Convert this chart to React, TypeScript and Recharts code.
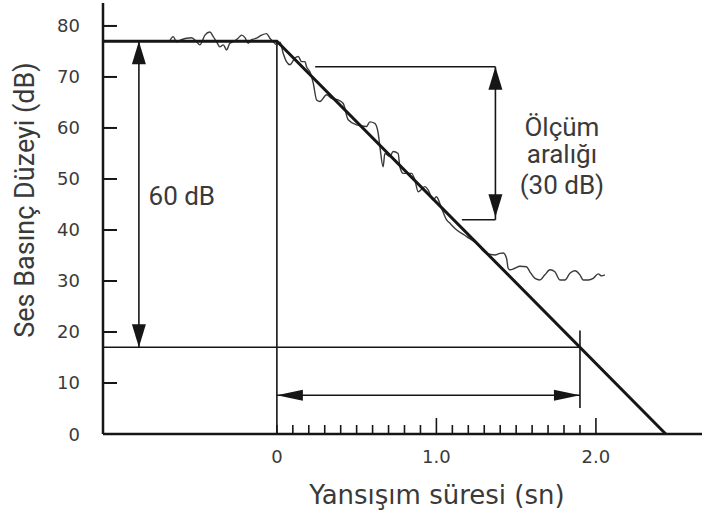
import React from 'react';
import { ComposedChart, Line, XAxis, YAxis, ReferenceLine, Scatter, ReferenceDot } from 'recharts';

const X_MIN = -1.09;
const X_MAX = 2.665;
const Y_MAX = 84.5;

const yTicks = [0, 10, 20, 30, 40, 50, 60, 70, 80];
const xTicks = [0, 0.1, 0.2, 0.3, 0.4, 0.5, 0.6, 0.7, 0.8, 0.9, 1.0, 1.1, 1.2, 1.3, 1.4, 1.5, 1.6, 1.7, 1.8, 1.9, 2.0];
const xTickLabels: Record<string, string> = { '0': '0', '1': '1.0', '2': '2.0' };
const xMajorTicks = [1.0, 2.0];

const xAxisTitle = 'Yansışım süresi (sn)';
const yAxisTitle = 'Ses Basınç Düzeyi (dB)';

// ideal decay line: steady level 77 dB, falls 60 dB in 1.9 s
const decayLine = [
  { x: X_MIN, y: 77 },
  { x: 0, y: 77 },
  { x: 2.438, y: 0 },
];

// measured (noisy) level
const measured = [
  { x: -0.671, y: 77.1 }, { x: -0.65, y: 77.9 }, { x: -0.629, y: 76.9 }, { x: -0.598, y: 77.3 },
  { x: -0.566, y: 77.6 }, { x: -0.535, y: 77.7 }, { x: -0.503, y: 76.9 }, { x: -0.483, y: 76.3 },
  { x: -0.451, y: 78.2 }, { x: -0.42, y: 78.8 }, { x: -0.399, y: 77.9 }, { x: -0.378, y: 76.9 },
  { x: -0.357, y: 75.9 }, { x: -0.336, y: 76.3 }, { x: -0.315, y: 75.3 }, { x: -0.295, y: 76.6 },
  { x: -0.274, y: 76.9 }, { x: -0.243, y: 77.6 }, { x: -0.221, y: 78.2 }, { x: -0.2, y: 77.7 },
  { x: -0.18, y: 76.6 }, { x: -0.159, y: 77.3 }, { x: -0.127, y: 77.6 }, { x: -0.096, y: 78.2 },
  { x: -0.065, y: 78.5 }, { x: -0.044, y: 77.6 }, { x: -0.023, y: 76.9 }, { x: 0, y: 76.3 },
  { x: 0.02, y: 76.8 }, { x: 0.04, y: 74.6 }, { x: 0.06, y: 73.0 }, { x: 0.082, y: 72.4 },
  { x: 0.113, y: 73.7 }, { x: 0.134, y: 74.0 }, { x: 0.155, y: 73.0 }, { x: 0.176, y: 73.0 },
  { x: 0.186, y: 72.0 }, { x: 0.207, y: 71.0 }, { x: 0.228, y: 68.8 }, { x: 0.249, y: 65.5 },
  { x: 0.27, y: 65.2 }, { x: 0.312, y: 66.5 }, { x: 0.343, y: 65.8 }, { x: 0.384, y: 65.5 },
  { x: 0.416, y: 64.8 }, { x: 0.447, y: 61.6 }, { x: 0.5, y: 60.6 }, { x: 0.562, y: 60.3 },
  { x: 0.583, y: 61.2 }, { x: 0.614, y: 60.9 }, { x: 0.635, y: 59.0 }, { x: 0.646, y: 56.3 },
  { x: 0.666, y: 52.4 }, { x: 0.677, y: 55.0 }, { x: 0.708, y: 54.4 }, { x: 0.729, y: 55.4 },
  { x: 0.76, y: 55.0 }, { x: 0.771, y: 52.4 }, { x: 0.792, y: 51.1 }, { x: 0.845, y: 51.1 },
  { x: 0.865, y: 49.8 }, { x: 0.886, y: 47.5 }, { x: 0.928, y: 48.5 }, { x: 0.949, y: 47.8 },
  { x: 0.98, y: 45.9 }, { x: 1.0, y: 46.5 }, { x: 1.033, y: 44.2 }, { x: 1.064, y: 42.0 },
  { x: 1.085, y: 41.3 }, { x: 1.12, y: 40.2 }, { x: 1.19, y: 38.7 }, { x: 1.25, y: 37.4 },
  { x: 1.315, y: 35.4 }, { x: 1.367, y: 35.1 }, { x: 1.398, y: 35.4 }, { x: 1.419, y: 35.5 },
  { x: 1.44, y: 34.4 }, { x: 1.45, y: 32.5 }, { x: 1.461, y: 32.2 }, { x: 1.492, y: 32.5 },
  { x: 1.524, y: 32.9 }, { x: 1.565, y: 32.8 }, { x: 1.586, y: 31.8 }, { x: 1.618, y: 30.5 },
  { x: 1.649, y: 30.2 }, { x: 1.68, y: 31.2 }, { x: 1.712, y: 32.2 }, { x: 1.743, y: 31.8 },
  { x: 1.774, y: 30.2 }, { x: 1.806, y: 30.2 }, { x: 1.837, y: 31.5 }, { x: 1.868, y: 32.0 },
  { x: 1.9, y: 31.2 }, { x: 1.92, y: 30.2 }, { x: 1.952, y: 30.2 }, { x: 1.983, y: 30.5 },
  { x: 2.014, y: 31.4 }, { x: 2.036, y: 31.0 }, { x: 2.056, y: 31.2 },
];

// thin guide segments [x1, y1, x2, y2]
const guideSegments = [
  [0, 0, 0, 77],
  [X_MIN, 17, 1.9, 17],
  [1.9, 5.1, 1.9, 20.3],
  [0, 7.6, 1.9, 7.6],
  [-0.865, 17, -0.865, 77],
  [0.24, 72, 1.37, 72],
  [1.16, 42, 1.37, 42],
  [1.37, 42, 1.37, 72],
];

const arrowHeads = [
  { x: -0.865, y: 77, dir: 'up' },
  { x: -0.865, y: 17, dir: 'down' },
  { x: 0, y: 7.6, dir: 'left' },
  { x: 1.9, y: 7.6, dir: 'right' },
  { x: 1.37, y: 72, dir: 'up' },
  { x: 1.37, y: 42.5, dir: 'down' },
];

const annotations = [
  { x: -0.596, y: 46.7, text: '60 dB' },
  { x: 1.787, y: 60.2, text: 'Ölçüm' },
  { x: 1.787, y: 54.8, text: 'aralığı' },
  { x: 1.787, y: 48.8, text: '(30 dB)' },
];

const INK = '#161616';
const TEXT = '#3a3a3a';
const FONT = 'DejaVu Sans';

const YTick = (props: any) => {
  const { x, y, payload } = props;
  return (
    <g>
      <line x1={x} x2={x + 14} y1={y} y2={y} stroke={INK} strokeWidth={2} />
      <text x={x - 23} y={y} textAnchor="end" dominantBaseline="central" fill={TEXT}
        fontFamily={FONT} fontSize={18}>{payload.value}</text>
    </g>
  );
};

const XTick = (props: any) => {
  const { x, y, payload } = props;
  const v = payload.value;
  const major = xMajorTicks.some((m) => Math.abs(m - v) < 1e-6);
  const key = String(Math.round(v * 10) / 10);
  const label = xTickLabels[key];
  return (
    <g>
      <line x1={x} x2={x} y1={y} y2={y - (major ? 16 : 9)} stroke={INK} strokeWidth={1.6} />
      {label ? (
        <text x={x} y={y + 22} textAnchor="middle" dominantBaseline="central" fill={TEXT}
          fontFamily={FONT} fontSize={18}>{label}</text>
      ) : null}
    </g>
  );
};

const ArrowHead = (props: any) => {
  const { cx, cy, payload } = props;
  const d = payload.dir;
  let pts = '';
  if (d === 'up') pts = `${cx},${cy} ${cx - 7},${cy + 23} ${cx + 7},${cy + 23}`;
  if (d === 'down') pts = `${cx},${cy} ${cx - 7},${cy - 23} ${cx + 7},${cy - 23}`;
  if (d === 'left') pts = `${cx},${cy} ${cx + 26},${cy - 5.5} ${cx + 26},${cy + 5.5}`;
  if (d === 'right') pts = `${cx},${cy} ${cx - 26},${cy - 5.5} ${cx - 26},${cy + 5.5}`;
  return <polygon points={pts} fill={INK} />;
};

export default function App() {
  return (
    <div style={{ position: 'absolute', left: 0, top: 0, width: 702, height: 512, background: '#fff' }}>
      <ComposedChart width={702} height={512} margin={{ top: 3, right: 0, left: 43, bottom: 48 }}>
        <XAxis type="number" dataKey="x" domain={[X_MIN, X_MAX]} ticks={xTicks} interval={0}
          allowDataOverflow tick={<XTick />} tickLine={false} tickSize={0} tickMargin={0} height={30}
          axisLine={{ stroke: INK, strokeWidth: 2.5 }} />
        <YAxis type="number" dataKey="y" domain={[0, Y_MAX]} ticks={yTicks} interval={0}
          allowDataOverflow tick={<YTick />} tickLine={false} tickSize={0} tickMargin={0} width={60}
          axisLine={{ stroke: INK, strokeWidth: 2.5 }} />
        {guideSegments.map((s, i) => (
          <ReferenceLine key={'g' + i} segment={[{ x: s[0], y: s[1] }, { x: s[2], y: s[3] }]}
            stroke={INK} strokeWidth={1.6} ifOverflow="visible" />
        ))}
        <Line data={measured} dataKey="y" type="monotone" stroke="#3a3a3a" strokeWidth={1.4}
          dot={false} isAnimationActive={false} />
        <Line data={decayLine} dataKey="y" type="linear" stroke={INK} strokeWidth={3}
          dot={false} isAnimationActive={false} />
        <Scatter data={arrowHeads} dataKey="y" shape={<ArrowHead />} isAnimationActive={false} />
        {annotations.map((a, i) => (
          <ReferenceDot key={'a' + i} x={a.x} y={a.y} ifOverflow="visible"
            shape={(p: any) => (
              <text x={p.cx} y={p.cy} textAnchor="middle" dominantBaseline="central" fill={TEXT}
                fontFamily="Roboto" fontSize={26}>{a.text}</text>
            )} />
        ))}
      </ComposedChart>
      <svg width={702} height={512} style={{ position: 'absolute', left: 0, top: 0, pointerEvents: 'none' }}>
        <text x={437} y={504} textAnchor="middle" fill={TEXT} fontFamily={FONT} fontSize={26}>{xAxisTitle}</text>
        <text x={34} y={200} transform="rotate(-90 34 200)" textAnchor="middle" fill={TEXT}
          fontFamily="Roboto" fontSize={27}>{yAxisTitle}</text>
      </svg>
    </div>
  );
}
